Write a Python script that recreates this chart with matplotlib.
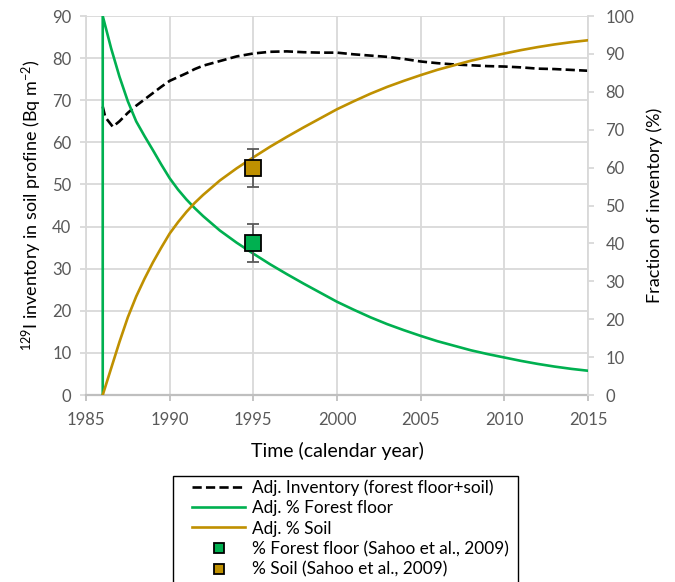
import matplotlib
matplotlib.use('Agg')
import matplotlib.pyplot as plt
from matplotlib.lines import Line2D
from matplotlib.patches import Rectangle

plt.rcParams['font.family'] = ['Lato', 'DejaVu Sans']
plt.rcParams['mathtext.default'] = 'regular'

# total inventory (left axis, Bq m-2)
inv_years = [1986, 1986.15, 1986.6, 1987, 1987.5, 1988, 1988.5, 1989, 1989.5, 1990,
             1990.5, 1991, 1991.5, 1992, 1993, 1994, 1995, 1996, 1997, 1998, 1999,
             2000, 2001, 2002, 2003, 2004, 2005, 2006, 2007, 2008, 2009, 2010,
             2011, 2012, 2013, 2014, 2015]
inventory = [68.5, 66.0, 63.7, 65.0, 67.0, 68.7, 70.2, 71.7, 73.2, 74.6,
             75.5, 76.4, 77.4, 78.2, 79.3, 80.4, 81.1, 81.5, 81.6, 81.4, 81.3,
             81.3, 80.9, 80.6, 80.3, 79.8, 79.2, 78.8, 78.5, 78.3, 78.1, 78.0,
             77.8, 77.5, 77.4, 77.2, 77.0]

# fractions (right axis, %)
frac_years = [1986, 1986, 1986.5, 1987, 1987.5, 1988, 1988.5, 1989, 1989.5, 1990,
              1990.5, 1991, 1991.5, 1992, 1993, 1994, 1995, 1996, 1997, 1998, 1999,
              2000, 2001, 2002, 2003, 2004, 2005, 2006, 2007, 2008, 2009, 2010,
              2011, 2012, 2013, 2014, 2015]
forest_floor = [0, 100, 91.5, 84.0, 77.5, 72.2, 68.3, 64.6, 60.8, 57.2,
                54.2, 51.6, 49.3, 47.2, 43.4, 40.2, 37.3, 34.5, 31.9, 29.4, 27.0,
                24.6, 22.5, 20.5, 18.7, 17.1, 15.6, 14.2, 13.0, 11.8, 10.8, 9.9,
                9.0, 8.2, 7.5, 6.9, 6.4]
soil = [0, 0, 7.0, 14.0, 20.5, 26.0, 30.7, 35.0, 38.9, 42.6,
        45.6, 48.3, 50.7, 52.8, 56.6, 59.8, 62.7, 65.5, 68.1, 70.6, 73.0,
        75.4, 77.5, 79.5, 81.3, 82.9, 84.4, 85.8, 87.0, 88.2, 89.2, 90.1,
        91.0, 91.8, 92.5, 93.1, 93.6]

# Sahoo et al., 2009
obs_year = [1995]
obs_forest = [40]
obs_forest_err = [5]
obs_soil = [60]
obs_soil_err = [5]

green = '#00b050'
gold = '#bf9000'
grid_c = '#d9d9d9'
tick_c = '#595959'

fig = plt.figure(figsize=(6.75, 5.82), dpi=100)
ax = fig.add_axes([0.1274, 0.3213, 0.7437, 0.6512])
ax2 = ax.twinx()

ax.plot(inv_years, inventory, color='black', lw=1.9, dashes=(3.5, 1.6),
        dash_capstyle='butt', zorder=3)
ax2.plot(frac_years, forest_floor, color=green, lw=1.9, zorder=3)
ax2.plot(frac_years, soil, color=gold, lw=1.9, zorder=3)
ax2.errorbar(obs_year, obs_forest, yerr=obs_forest_err, fmt='none', ecolor=tick_c,
             elinewidth=1.3, capsize=4, capthick=1.3, zorder=4)
ax2.errorbar(obs_year, obs_soil, yerr=obs_soil_err, fmt='none', ecolor=tick_c,
             elinewidth=1.3, capsize=4, capthick=1.3, zorder=4)
ax2.plot(obs_year, obs_forest, 's', color=green, mec='black', mew=1.3, ms=11, zorder=5)
ax2.plot(obs_year, obs_soil, 's', color=gold, mec='black', mew=1.3, ms=11, zorder=5)

ax.set_xlim(1985, 2015)
ax.set_ylim(0, 90)
ax2.set_ylim(0, 100)
ax.set_xticks(range(1985, 2016, 5))
ax.set_yticks(range(0, 91, 10))
ax2.set_yticks(range(0, 101, 10))

ax.grid(True, color=grid_c, lw=1.3)
ax.set_axisbelow(True)
for a in (ax, ax2):
    for s in a.spines.values():
        s.set_color(grid_c)
        s.set_linewidth(1.3)
    a.spines['top'].set_visible(False)
ax.spines['bottom'].set_color('#bfbfbf')
ax.spines['bottom'].set_linewidth(1.6)
ax2.spines['bottom'].set_visible(False)
ax.spines['right'].set_visible(False)
ax2.spines['left'].set_visible(False)

ax.tick_params(axis='y', length=4.5, width=1.3, color=grid_c, labelcolor=tick_c,
               labelsize=12, pad=6)
ax.tick_params(axis='x', length=4.5, width=1.3, color='#bfbfbf', labelcolor=tick_c,
               labelsize=12, pad=8)
ax2.tick_params(axis='y', length=4.5, width=1.3, color=grid_c, labelcolor=tick_c,
                labelsize=12, pad=8)

ax.set_xlabel('Time (calendar year)', fontsize=14, labelpad=10)
ax.set_ylabel(r'$^{129}$I inventory in soil profine (Bq m$^{-2}$)', fontsize=13, labelpad=6)
ax2.set_ylabel('Fraction of inventory (%)', fontsize=13, labelpad=9)

handles = [
    Line2D([], [], color='black', lw=1.9, dashes=(3.5, 1.6), dash_capstyle='butt'),
    Line2D([], [], color=green, lw=1.9),
    Line2D([], [], color=gold, lw=1.9),
    Line2D([], [], ls='none', marker='s', color=green, mec='black', mew=1.3, ms=7),
    Line2D([], [], ls='none', marker='s', color=gold, mec='black', mew=1.3, ms=7),
]
labels = ['Adj. Inventory (forest floor+soil)', 'Adj. % Forest floor', 'Adj. % Soil',
          '% Forest floor (Sahoo et al., 2009)', '% Soil (Sahoo et al., 2009)']
leg = fig.legend(handles, labels, loc='upper left', bbox_to_anchor=(0.2844, 0.1770),
                 fontsize=12.4, frameon=False, handlelength=3.1,
                 handletextpad=0.4, labelspacing=0.26, borderpad=0, borderaxespad=0)
fig.patches.append(Rectangle((173 / 675, -0.02), 345 / 675, (582 - 476) / 582 + 0.02,
                             transform=fig.transFigure, fill=False, ec='black', lw=1.0))

fig.savefig('out.png', dpi=100)
